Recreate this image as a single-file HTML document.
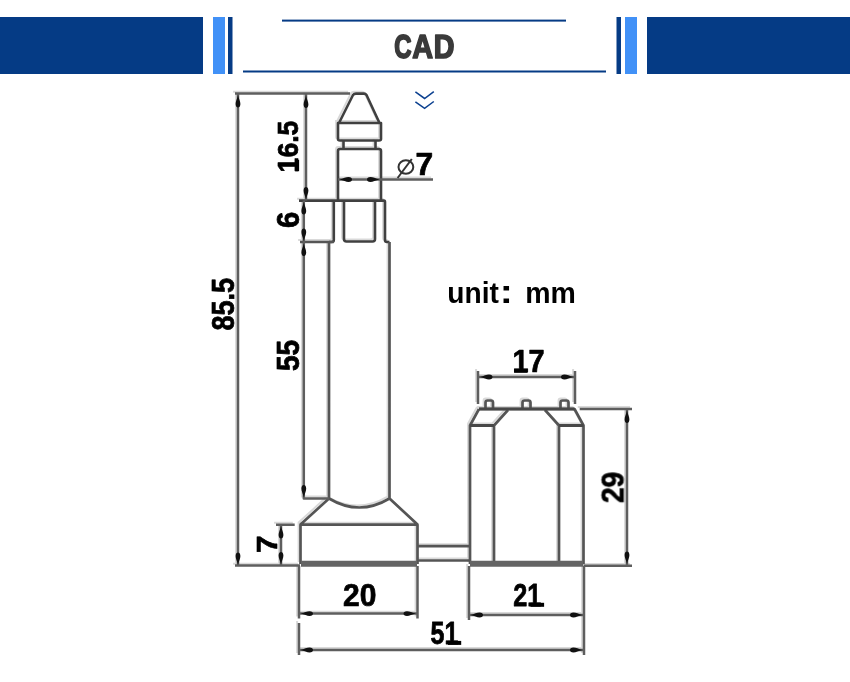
<!DOCTYPE html>
<html><head><meta charset="utf-8"><style>
html,body{margin:0;padding:0;background:#fff;width:850px;height:682px;overflow:hidden}
svg{display:block}
</style></head><body>
<svg width="850" height="682" viewBox="0 0 850 682">
<rect x="0" y="17" width="203" height="57" fill="#053b85"/>
<rect x="213" y="17" width="12" height="57" fill="#4191f7"/>
<rect x="228" y="17" width="4.5" height="57" fill="#053b85"/>
<rect x="616.5" y="17" width="4.5" height="57" fill="#053b85"/>
<rect x="625" y="17" width="12" height="57" fill="#4191f7"/>
<rect x="647" y="17" width="203" height="57" fill="#053b85"/>
<rect x="282" y="19.6" width="284" height="2" fill="#053b85"/>
<rect x="243" y="70.5" width="363" height="2" fill="#053b85"/>
<g font-family="Liberation Sans" font-weight="bold" font-size="200" style="will-change:transform">
<text transform="matrix(0.11985 0 0 0.16761 394.341 58.465)" fill="#3a3a3a" stroke="#3a3a3a" stroke-width="1.6" vector-effect="non-scaling-stroke" stroke-linejoin="round">C</text>
<text transform="matrix(0.14403 0 0 0.16812 412.180 58.000)" fill="#3a3a3a" stroke="#3a3a3a" stroke-width="1.6" vector-effect="non-scaling-stroke" stroke-linejoin="round">A</text>
<text transform="matrix(0.14309 0 0 0.16667 433.640 58.000)" fill="#3a3a3a" stroke="#3a3a3a" stroke-width="1.6" vector-effect="non-scaling-stroke" stroke-linejoin="round">D</text>
</g>
<g fill="none" stroke="#0c4190" stroke-width="1.55" stroke-linecap="butt"><polyline points="415.4,91.9 424.6,98.5 433.8,91.6"/><polyline points="415.4,101.8 424.6,108.4 433.8,101.5"/></g>
<path d="M339,123 L353,95 Q354,93.6 356,93.6 L364,93.6 Q365.5,93.6 366.5,95 L379.5,123 M338,123 H381 V139 Q381,140.5 379,140.5 H340 Q338,140.5 338,139 Z M343.5,140.5 V149 M375.5,140.5 V149 M338,200 V151 Q338,149 340,149 H379 Q381,149 381,151 V200 M299,200.6 H384 Q385,200.6 385,202 V240 Q385,242 387,242 H389.5 M333.8,200.6 V240 Q333.8,242 331.5,242 H329 M344,200.6 V239 Q344,241.5 346.5,241.5 H372.5 Q375,241.5 375,239 V200.6 M300,242 H333.8 M329,242 V498.5 M389.5,242 V498.5 M329,498.5 Q359.25,516.5 389.5,498.5 M329,498.5 L300.5,524.5 M389.5,498.5 L417.5,524.5 M300.5,564 V524.7 H417.5 V564 M417.5,546.2 H469 M417.5,560.5 H469 M479,409 H574.5 L583.5,425.5 V564 M479,409 L470,425.5 V564 M470,425.5 H494 L508,410 M583.5,425.5 H559 L545,410 M494,425.5 V564 M559,425.5 V564 M485.5,409 V402.5 Q485.5,400.5 487.5,400.5 H491 Q493,400.5 493,402.5 V409 M522.5,409 V402.5 Q522.5,400.5 524.5,400.5 H528.5 Q530.5,400.5 530.5,402.5 V409 M560.5,409 V402.5 Q560.5,400.5 562.5,400.5 H566.5 Q568.5,400.5 568.5,402.5 V409 M235,93.6 H350 M238,93.6 V565.4 M235,565.6 H300 M306,93.6 V200.6 M303.8,200.6 V498.5 H329 M281,524.7 V565.4 M276,524.7 H294.7 M338,179.5 H433 M478,377 H575 M478,371 V404 M575,371 V404 M579.7,409 H632 M627,409 V565 M583.5,565.8 H632 M299,566 V618.5 M417.5,566 V618.5 M299,613.6 H417.5 M469,566 V620 M584,566 V655 M469,615 H584 M299,623 V655 M299,650 H584" fill="none" stroke="#d9d9d9" stroke-width="2" transform="translate(-1.9,-1.9)"/>
<path d="M339,123 L353,95 Q354,93.6 356,93.6 L364,93.6 Q365.5,93.6 366.5,95 L379.5,123 M338,123 H381 V139 Q381,140.5 379,140.5 H340 Q338,140.5 338,139 Z M343.5,140.5 V149 M375.5,140.5 V149 M338,200 V151 Q338,149 340,149 H379 Q381,149 381,151 V200 M299,200.6 H384 Q385,200.6 385,202 V240 Q385,242 387,242 H389.5 M333.8,200.6 V240 Q333.8,242 331.5,242 H329 M344,200.6 V239 Q344,241.5 346.5,241.5 H372.5 Q375,241.5 375,239 V200.6" fill="none" stroke="#404040" stroke-width="2.6" stroke-linejoin="round"/>
<path d="M300,242 H333.8 M329,242 V498.5 M389.5,242 V498.5 M329,498.5 Q359.25,516.5 389.5,498.5 M329,498.5 L300.5,524.5 M389.5,498.5 L417.5,524.5 M300.5,564 V524.7 H417.5 V564 M417.5,546.2 H469 M417.5,560.5 H469 M479,409 H574.5 L583.5,425.5 V564 M479,409 L470,425.5 V564 M470,425.5 H494 L508,410 M583.5,425.5 H559 L545,410 M494,425.5 V564 M559,425.5 V564 M485.5,409 V402.5 Q485.5,400.5 487.5,400.5 H491 Q493,400.5 493,402.5 V409 M522.5,409 V402.5 Q522.5,400.5 524.5,400.5 H528.5 Q530.5,400.5 530.5,402.5 V409 M560.5,409 V402.5 Q560.5,400.5 562.5,400.5 H566.5 Q568.5,400.5 568.5,402.5 V409" fill="none" stroke="#555" stroke-width="2.7" stroke-linejoin="round"/>
<path d="M235,93.6 H350 M238,93.6 V565.4 M235,565.6 H300 M306,93.6 V200.6 M303.8,200.6 V498.5 H329 M281,524.7 V565.4 M276,524.7 H294.7 M338,179.5 H433 M478,377 H575 M478,371 V404 M575,371 V404 M579.7,409 H632 M627,409 V565 M583.5,565.8 H632 M299,566 V618.5 M417.5,566 V618.5 M299,613.6 H417.5 M469,566 V620 M584,566 V655 M469,615 H584 M299,623 V655 M299,650 H584" fill="none" stroke="#5e5e5e" stroke-width="2.5" stroke-linejoin="round"/>
<path d="M470,425.5 H494 M559,425.5 H583.5 M479,409 H574.5" fill="none" stroke="#484848" stroke-width="3"/>
<path d="M301,563.8 H417 M470,563.8 H583" stroke="#646464" stroke-width="6" fill="none"/>
<g fill="none" stroke="#333" stroke-width="2"><ellipse cx="405.9" cy="167" rx="7.4" ry="6.8"/><path d="M397.6,178 L411.8,159"/></g>
<g fill="#111">
<path transform="translate(238,95) rotate(90)" d="M0,0 C4,0.9 6.5,2.4 9,2.4 C11.5,2.4 12.5,1.2 12.5,0 C12.5,-1.2 11.5,-2.4 9,-2.4 C6.5,-2.4 4,-0.9 0,0Z"/>
<path transform="translate(238,565) rotate(-90)" d="M0,0 C4,0.9 6.5,2.4 9,2.4 C11.5,2.4 12.5,1.2 12.5,0 C12.5,-1.2 11.5,-2.4 9,-2.4 C6.5,-2.4 4,-0.9 0,0Z"/>
<path transform="translate(306,95.5) rotate(90)" d="M0,0 C4,0.9 6.5,2.4 9,2.4 C11.5,2.4 12.5,1.2 12.5,0 C12.5,-1.2 11.5,-2.4 9,-2.4 C6.5,-2.4 4,-0.9 0,0Z"/>
<path transform="translate(306,199.5) rotate(-90)" d="M0,0 C4,0.9 6.5,2.4 9,2.4 C11.5,2.4 12.5,1.2 12.5,0 C12.5,-1.2 11.5,-2.4 9,-2.4 C6.5,-2.4 4,-0.9 0,0Z"/>
<path transform="translate(303.8,202) rotate(90)" d="M0,0 C4,0.9 6.5,2.4 9,2.4 C11.5,2.4 12.5,1.2 12.5,0 C12.5,-1.2 11.5,-2.4 9,-2.4 C6.5,-2.4 4,-0.9 0,0Z"/>
<path transform="translate(303.8,241) rotate(-90)" d="M0,0 C4,0.9 6.5,2.4 9,2.4 C11.5,2.4 12.5,1.2 12.5,0 C12.5,-1.2 11.5,-2.4 9,-2.4 C6.5,-2.4 4,-0.9 0,0Z"/>
<path transform="translate(303.8,243.5) rotate(90)" d="M0,0 C4,0.9 6.5,2.4 9,2.4 C11.5,2.4 12.5,1.2 12.5,0 C12.5,-1.2 11.5,-2.4 9,-2.4 C6.5,-2.4 4,-0.9 0,0Z"/>
<path transform="translate(303.8,497.5) rotate(-90)" d="M0,0 C4,0.9 6.5,2.4 9,2.4 C11.5,2.4 12.5,1.2 12.5,0 C12.5,-1.2 11.5,-2.4 9,-2.4 C6.5,-2.4 4,-0.9 0,0Z"/>
<path transform="translate(281,526) rotate(90)" d="M0,0 C4,0.9 6.5,2.4 9,2.4 C11.5,2.4 12.5,1.2 12.5,0 C12.5,-1.2 11.5,-2.4 9,-2.4 C6.5,-2.4 4,-0.9 0,0Z"/>
<path transform="translate(281,564.5) rotate(-90)" d="M0,0 C4,0.9 6.5,2.4 9,2.4 C11.5,2.4 12.5,1.2 12.5,0 C12.5,-1.2 11.5,-2.4 9,-2.4 C6.5,-2.4 4,-0.9 0,0Z"/>
<path transform="translate(339.5,179.5) rotate(0)" d="M0,0 C4,0.9 6.5,2.4 9,2.4 C11.5,2.4 12.5,1.2 12.5,0 C12.5,-1.2 11.5,-2.4 9,-2.4 C6.5,-2.4 4,-0.9 0,0Z"/>
<path transform="translate(379.5,179.5) rotate(180)" d="M0,0 C4,0.9 6.5,2.4 9,2.4 C11.5,2.4 12.5,1.2 12.5,0 C12.5,-1.2 11.5,-2.4 9,-2.4 C6.5,-2.4 4,-0.9 0,0Z"/>
<path transform="translate(480,377) rotate(0)" d="M0,0 C4,0.9 6.5,2.4 9,2.4 C11.5,2.4 12.5,1.2 12.5,0 C12.5,-1.2 11.5,-2.4 9,-2.4 C6.5,-2.4 4,-0.9 0,0Z"/>
<path transform="translate(573.5,377) rotate(180)" d="M0,0 C4,0.9 6.5,2.4 9,2.4 C11.5,2.4 12.5,1.2 12.5,0 C12.5,-1.2 11.5,-2.4 9,-2.4 C6.5,-2.4 4,-0.9 0,0Z"/>
<path transform="translate(627,410.5) rotate(90)" d="M0,0 C4,0.9 6.5,2.4 9,2.4 C11.5,2.4 12.5,1.2 12.5,0 C12.5,-1.2 11.5,-2.4 9,-2.4 C6.5,-2.4 4,-0.9 0,0Z"/>
<path transform="translate(627,564) rotate(-90)" d="M0,0 C4,0.9 6.5,2.4 9,2.4 C11.5,2.4 12.5,1.2 12.5,0 C12.5,-1.2 11.5,-2.4 9,-2.4 C6.5,-2.4 4,-0.9 0,0Z"/>
<path transform="translate(300.5,613.6) rotate(0)" d="M0,0 C4,0.9 6.5,2.4 9,2.4 C11.5,2.4 12.5,1.2 12.5,0 C12.5,-1.2 11.5,-2.4 9,-2.4 C6.5,-2.4 4,-0.9 0,0Z"/>
<path transform="translate(416,613.6) rotate(180)" d="M0,0 C4,0.9 6.5,2.4 9,2.4 C11.5,2.4 12.5,1.2 12.5,0 C12.5,-1.2 11.5,-2.4 9,-2.4 C6.5,-2.4 4,-0.9 0,0Z"/>
<path transform="translate(470.5,615) rotate(0)" d="M0,0 C4,0.9 6.5,2.4 9,2.4 C11.5,2.4 12.5,1.2 12.5,0 C12.5,-1.2 11.5,-2.4 9,-2.4 C6.5,-2.4 4,-0.9 0,0Z"/>
<path transform="translate(582.5,615) rotate(180)" d="M0,0 C4,0.9 6.5,2.4 9,2.4 C11.5,2.4 12.5,1.2 12.5,0 C12.5,-1.2 11.5,-2.4 9,-2.4 C6.5,-2.4 4,-0.9 0,0Z"/>
<path transform="translate(300.5,650) rotate(0)" d="M0,0 C4,0.9 6.5,2.4 9,2.4 C11.5,2.4 12.5,1.2 12.5,0 C12.5,-1.2 11.5,-2.4 9,-2.4 C6.5,-2.4 4,-0.9 0,0Z"/>
<path transform="translate(582.5,650) rotate(180)" d="M0,0 C4,0.9 6.5,2.4 9,2.4 C11.5,2.4 12.5,1.2 12.5,0 C12.5,-1.2 11.5,-2.4 9,-2.4 C6.5,-2.4 4,-0.9 0,0Z"/>
</g>
<g font-family="Liberation Sans" font-weight="bold" font-size="200" style="will-change:transform">
<text transform="matrix(0 -0.13288 0.15000 0 298.350 172.377)" fill="#000" stroke="#000" stroke-width="0.7" vector-effect="non-scaling-stroke" stroke-linejoin="round">16.5</text>
<rect x="295.3" y="159.8" width="3.8" height="11.4"/>
<text transform="matrix(0 -0.14639 0.15775 0 299.235 227.875)" fill="#000" stroke="#000" stroke-width="0.7" vector-effect="non-scaling-stroke" stroke-linejoin="round">6</text>
<text transform="matrix(0 -0.13545 0.15211 0 233.746 330.563)" fill="#000" stroke="#000" stroke-width="0.7" vector-effect="non-scaling-stroke" stroke-linejoin="round">85.5</text>
<text transform="matrix(0 -0.14028 0.15786 0 299.234 371.092)" fill="#000" stroke="#000" stroke-width="0.7" vector-effect="non-scaling-stroke" stroke-linejoin="round">55</text>
<text transform="matrix(0 -0.15806 0.14928 0 276.950 552.973)" fill="#000" stroke="#000" stroke-width="0.7" vector-effect="non-scaling-stroke" stroke-linejoin="round">7</text>
<text transform="matrix(0 -0.14087 0.15493 0 623.040 503.136)" fill="#000" stroke="#000" stroke-width="0.7" vector-effect="non-scaling-stroke" stroke-linejoin="round">29</text>
<text transform="matrix(0.15914 0 0 0.15290 415.418 175.250)" fill="#000" stroke="#000" stroke-width="0.7" vector-effect="non-scaling-stroke" stroke-linejoin="round">7</text>
<text transform="matrix(0.14428 0 0 0.15580 512.574 372.450)" fill="#000" stroke="#000" stroke-width="0.7" vector-effect="non-scaling-stroke" stroke-linejoin="round">17</text>
<rect x="514.1" y="369.0" width="13.4" height="3.8"/>
<text transform="matrix(0.15024 0 0 0.15704 343.098 606.436)" fill="#000" stroke="#000" stroke-width="0.7" vector-effect="non-scaling-stroke" stroke-linejoin="round">20</text>
<text transform="matrix(0.12619 0 0 0.15714 513.267 606.450)" fill="#000" stroke="#000" stroke-width="0.7" vector-effect="non-scaling-stroke" stroke-linejoin="round">21</text>
<rect x="530.5" y="602.8" width="13.6" height="4"/>
<text transform="matrix(0.12512 0 0 0.15500 430.499 644.340)" fill="#000" stroke="#000" stroke-width="0.7" vector-effect="non-scaling-stroke" stroke-linejoin="round">51</text>
<rect x="447.9" y="640.9" width="13.3" height="4"/>
<text transform="matrix(0.14062 0 0 0.14830 447.312 303.003)" fill="#000">unit</text>
<text transform="matrix(0.19643 0 0 0.16176 499.768 302.500)" fill="#000">:</text>
<text transform="matrix(0.14242 0 0 0.15093 525.148 303.300)" fill="#000">mm</text>
</g>
</svg>
</body></html>
